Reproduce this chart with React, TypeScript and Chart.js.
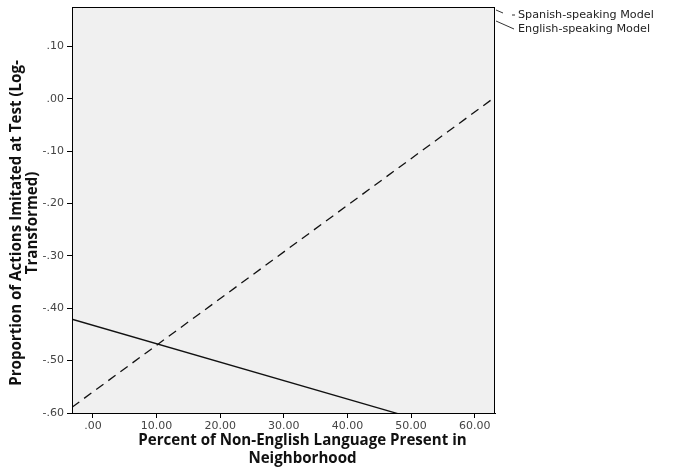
import React, { useEffect, useRef } from "react";
import { Chart, registerables } from "chart.js";

Chart.register(...registerables);

// Data (predicted regression lines)
const xEnds: number[] = [-3.3, 63.2];
const spanishVals: number[] = [-0.589, 0.003];
const englishVals: number[] = [-0.421, -0.655];
const xTicks: number[] = [0, 10, 20, 30, 40, 50, 60];
const yTicks: number[] = [-0.6, -0.5, -0.4, -0.3, -0.2, -0.1, 0.0, 0.1];
const yRange: number[] = [-0.6, 0.175];
const seriesNames: string[] = ["Spanish-speaking Model", "English-speaking Model"];
const xTitle: string[] = ["Percent of Non-English Language Present in", "Neighborhood"];
const yTitle: string[] = ["Proportion of Actions Imitated at Test (Log-", "Transformed)"];

const TITLE_FONT = "bold 15.1px 'Open Sans'";

const fmt = (v: number): string => {
  const s = Math.abs(v).toFixed(2).replace(/^0/, "");
  return (v < -1e-9 ? "-" : "") + s;
};

const plotDeco = {
  id: "plotDeco",
  beforeDraw(chart: any) {
    const { ctx, chartArea: a } = chart;
    ctx.save();
    ctx.fillStyle = "#f0f0f0";
    ctx.fillRect(a.left, a.top, a.right - a.left, a.bottom - a.top);
    ctx.restore();
  },
  afterDraw(chart: any) {
    const { ctx, chartArea: a } = chart;
    ctx.save();
    ctx.strokeStyle = "#000";
    ctx.lineWidth = 1;
    ctx.strokeRect(a.left + 0.5, a.top + 0.5, a.right - a.left - 1, a.bottom - a.top);
    // series labels at right with leader lines
    ctx.strokeStyle = "#333";
    ctx.beginPath();
    ctx.moveTo(a.right + 1, a.top + 3);
    ctx.lineTo(a.right + 8, a.top + 6);
    ctx.moveTo(a.right + 17, a.top + 8);
    ctx.lineTo(a.right + 20, a.top + 8);
    ctx.moveTo(a.right + 1, a.top + 14);
    ctx.lineTo(a.right + 19, a.top + 22);
    ctx.stroke();
    ctx.fillStyle = "#222";
    ctx.font = "11.2px 'DejaVu Sans'";
    ctx.textBaseline = "middle";
    ctx.textAlign = "left";
    ctx.fillText(seriesNames[0], a.right + 23, a.top + 8);
    ctx.fillText(seriesNames[1], a.right + 23, a.top + 22);

    // axis titles
    ctx.fillStyle = "#111";
    ctx.font = TITLE_FONT;
    ctx.textAlign = "center";
    ctx.textBaseline = "middle";
    const xc = (a.left + a.right) / 2 + 19;
    ctx.fillText(xTitle[0], xc, a.bottom + 28);
    ctx.fillText(xTitle[1], xc, a.bottom + 46);
    ctx.translate(0, (a.top + a.bottom) / 2 + 13);
    ctx.rotate(-Math.PI / 2);
    ctx.fillText(yTitle[0], 0, 17);
    ctx.fillText(yTitle[1], 0, 33);
    ctx.restore();
  },
};

export default function App() {
  const ref = useRef<HTMLCanvasElement | null>(null);
  useEffect(() => {
    document.body.style.margin = "0";
    if (!ref.current) return;
    const chart = new Chart(ref.current, {
      type: "line",
      data: {
        datasets: [
          {
            label: seriesNames[0],
            data: xEnds.map((x, i) => ({ x, y: spanishVals[i] })),
            borderColor: "#111",
            borderWidth: 1.3,
            borderDash: [9, 6],
            pointRadius: 0,
          },
          {
            label: seriesNames[1],
            data: xEnds.map((x, i) => ({ x, y: englishVals[i] })),
            borderColor: "#111",
            borderWidth: 1.3,
            pointRadius: 0,
          },
        ],
      },
      options: {
        animation: false,
        responsive: false,
        devicePixelRatio: 1,
        layout: { padding: { top: 7, right: 181, left: 0, bottom: 0 } },
        plugins: { legend: { display: false }, tooltip: { enabled: false } },
        scales: {
          x: {
            type: "linear",
            min: xEnds[0],
            max: xEnds[1],
            afterBuildTicks: (s: any) => {
              s.ticks = xTicks.map((v) => ({ value: v }));
            },
            afterFit: (s: any) => {
              s.height = 61;
              s.paddingLeft = 0;
              s.paddingRight = 0;
            },
            ticks: {
              callback: (v: any) => fmt(Number(v)),
              color: "#444",
              font: { family: "'DejaVu Sans'", size: 11 },
              padding: 2,
              maxRotation: 0,
            },
            grid: { display: true, drawOnChartArea: false, drawTicks: true, tickLength: 5, color: "#000" },
            border: { display: true, color: "#000" },
          },
          y: {
            type: "linear",
            min: yRange[0],
            max: yRange[1],
            afterBuildTicks: (s: any) => {
              s.ticks = yTicks.map((v) => ({ value: v }));
            },
            afterFit: (s: any) => {
              s.width = 72;
              s.paddingTop = 0;
              s.paddingBottom = 0;
            },
            ticks: {
              callback: (v: any) => fmt(Number(v)),
              color: "#444",
              font: { family: "'DejaVu Sans'", size: 11 },
              padding: 3,
            },
            grid: { display: true, drawOnChartArea: false, drawTicks: true, tickLength: 5, color: "#000" },
            border: { display: true, color: "#000" },
          },
        },
      },
      plugins: [plotDeco],
    });
    return () => chart.destroy();
  }, []);
  return (
    <div style={{ width: 676, height: 474, background: "#fff" }}>
      <canvas ref={ref} width={676} height={474} />
    </div>
  );
}
